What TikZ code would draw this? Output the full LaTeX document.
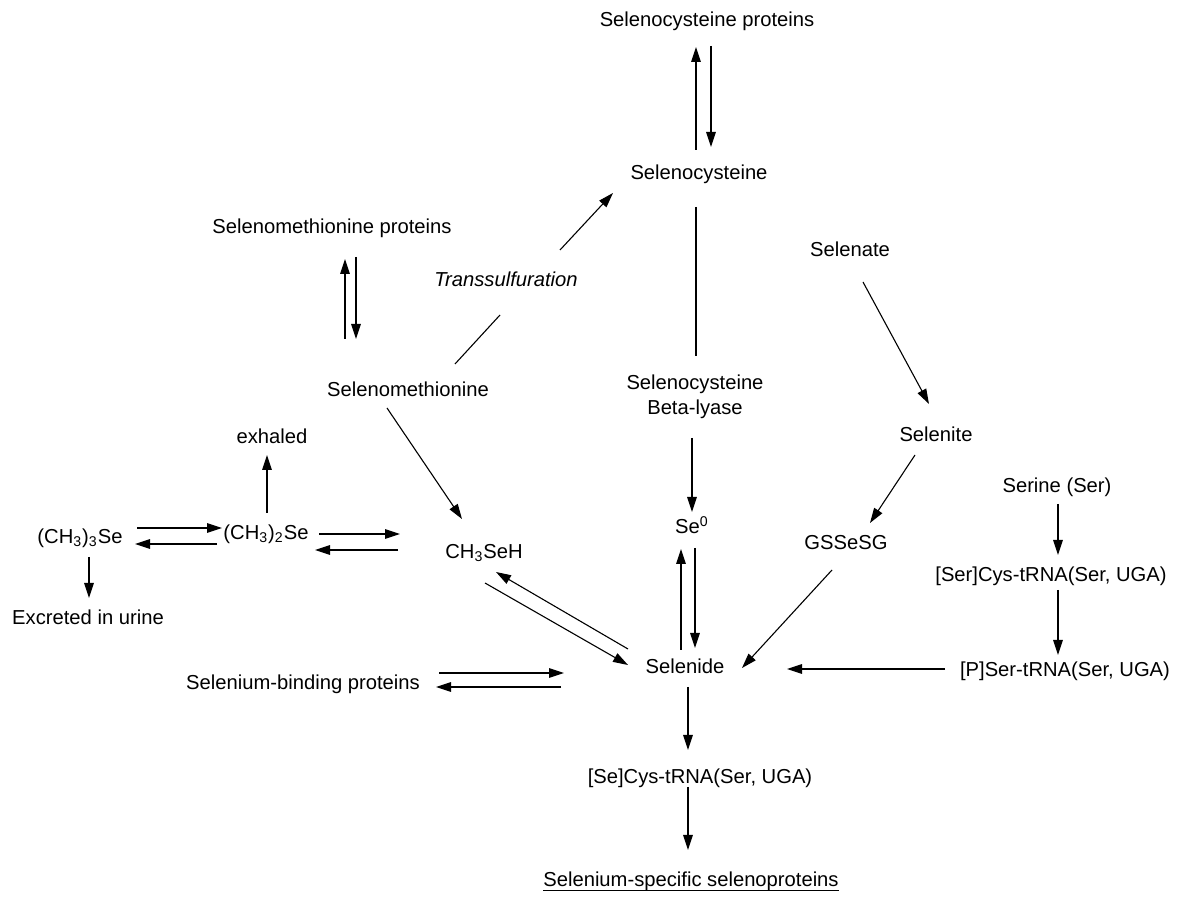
\documentclass[tikz,border=0pt]{standalone}
\usepackage{fontspec}
\setmainfont{Liberation Sans}
\usetikzlibrary{arrows.meta}
\newcommand\undertext[1]{\setbox0\hbox{#1}\rlap{\rule[-2pt]{\wd0}{0.5pt}}\box0}
\tikzset{
  chem/.style    = { inner sep=0pt, anchor=base, font=\fontsize{10.1}{12.5}\selectfont },
  react/.style   = { -{Triangle[length=7.5pt,width=4.8pt]}, line width=0.55pt },
  link/.style    = { line width=0.55pt }
}

\begin{document}
\begin{tikzpicture}[x=0.5pt,y=-0.5pt]
\useasboundingbox (0,0) rectangle (1180,897);

\node[chem] (scp) at (707,27) {Selenocysteine proteins};
\node[chem] (scys) at (699,180) {Selenocysteine};
\node[chem] (smp) at (332,234) {Selenomethionine proteins};
\node[chem,font=\fontsize{10.1}{12.5}\selectfont\itshape] (trans) at (506,287) {Transsulfuration};
\node[chem] (smet) at (408,397) {Selenomethionine};
\node[chem,anchor=center,align=center] (lyase) at (695,397) {Selenocysteine\\Beta-lyase};
\node[chem] (selenate) at (850,257) {Selenate};
\node[chem] (selenite) at (936,442) {Selenite};
\node[chem] (se0) at (692,534) {Se\textsuperscript{0}};
\node[chem] (gssg) at (846,550) {GSSeSG};
\node[chem] (serine) at (1057,493) {Serine (Ser)};
\node[chem] (sercys) at (1051,582) {[Ser]Cys-tRNA(Ser, UGA)};
\node[chem] (pser) at (1065,677) {[P]Ser-tRNA(Ser, UGA)};
\node[chem] (ch3) at (484,559) {CH\textsubscript{3}SeH};
\node[chem] (dms) at (266,540) {(CH\textsubscript{3})\textsubscript{2}Se};
\node[chem] (exh) at (272,444) {exhaled};
\node[chem] (tms) at (80,544) {(CH\textsubscript{3})\textsubscript{3}Se};
\node[chem] (urine) at (88,625) {Excreted in urine};
\node[chem] (sbp) at (303,690) {Selenium-binding proteins};
\node[chem] (selenide) at (685,674) {Selenide};
\node[chem] (secys) at (700,784) {[Se]Cys-tRNA(Ser, UGA)};
\node[chem] (ssp) at (691,887) {\undertext{Selenium-specific selenoproteins}};

\draw[react] ([shift={(-3,-30)}]scys.base) -- ([shift={(-11,20)}]scp.base);
\draw[react] ([shift={(4,19)}]scp.base) -- ([shift={(12,-33)}]scys.base);
\draw[react] ([shift={(-63,-58)}]smet.base) -- ([shift={(13,25)}]smp.base);
\draw[react] ([shift={(24,23)}]smp.base) -- ([shift={(-52,-58)}]smet.base);
\draw[link] ([shift={(47,-33)}]smet.base) -- ([shift={(-6,28)}]trans.base);
\draw[react] ([shift={(54,-37)}]trans.base) -- ([shift={(-86,13)}]scys.base);
\draw[link] ([shift={(-3,27)}]scys.base) -- ([shift={(1,-41)}]lyase.center);
\draw[react] ([shift={(-3,41)}]lyase.center) -- ([shift={(0,-22)}]se0.base);
\draw[react] ([shift={(-4,-24)}]selenide.base) -- ([shift={(-11,15)}]se0.base);
\draw[react] ([shift={(3,14)}]se0.base) -- ([shift={(10,-26)}]selenide.base);
\draw[react] ([shift={(13,25)}]selenate.base) -- ([shift={(-7,-38)}]selenite.base);
\draw[react] ([shift={(-21,13)}]selenite.base) -- ([shift={(24,-27)}]gssg.base);
\draw[react] ([shift={(-14,20)}]gssg.base) -- ([shift={(57,-6)}]selenide.base);
\draw[react] ([shift={(1,11)}]serine.base) -- ([shift={(7,-27)}]sercys.base);
\draw[react] ([shift={(7,8)}]sercys.base) -- ([shift={(-7,-22)}]pser.base);
\draw[react] ([shift={(-120,-8)}]pser.base) -- ([shift={(102,-5)}]selenide.base);
\draw[react] ([shift={(-21,11)}]smet.base) -- ([shift={(-22,-40)}]ch3.base);
\draw[react] ([shift={(-57,-25)}]selenide.base) -- ([shift={(12,13)}]ch3.base);
\draw[react] ([shift={(1,24)}]ch3.base) -- ([shift={(-57,-9)}]selenide.base);
\draw[react] ([shift={(136,-17)}]sbp.base) -- ([shift={(-121,-1)}]selenide.base);
\draw[react] ([shift={(-124,13)}]selenide.base) -- ([shift={(133,-3)}]sbp.base);
\draw[react] ([shift={(-86,-9)}]ch3.base) -- ([shift={(49,10)}]dms.base);
\draw[react] ([shift={(53,-6)}]dms.base) -- ([shift={(-84,-25)}]ch3.base);
\draw[react] ([shift={(1,-27)}]dms.base) -- ([shift={(-5,11)}]exh.base);
\draw[react] ([shift={(57,-16)}]tms.base) -- ([shift={(-44,-12)}]dms.base);
\draw[react] ([shift={(-49,4)}]dms.base) -- ([shift={(55,0)}]tms.base);
\draw[react] ([shift={(9,13)}]tms.base) -- ([shift={(1,-27)}]urine.base);
\draw[react] ([shift={(3,13)}]selenide.base) -- ([shift={(-12,-34)}]secys.base);
\draw[react] ([shift={(-12,3)}]secys.base) -- ([shift={(-3,-37)}]ssp.base);
\end{tikzpicture}
\end{document}
